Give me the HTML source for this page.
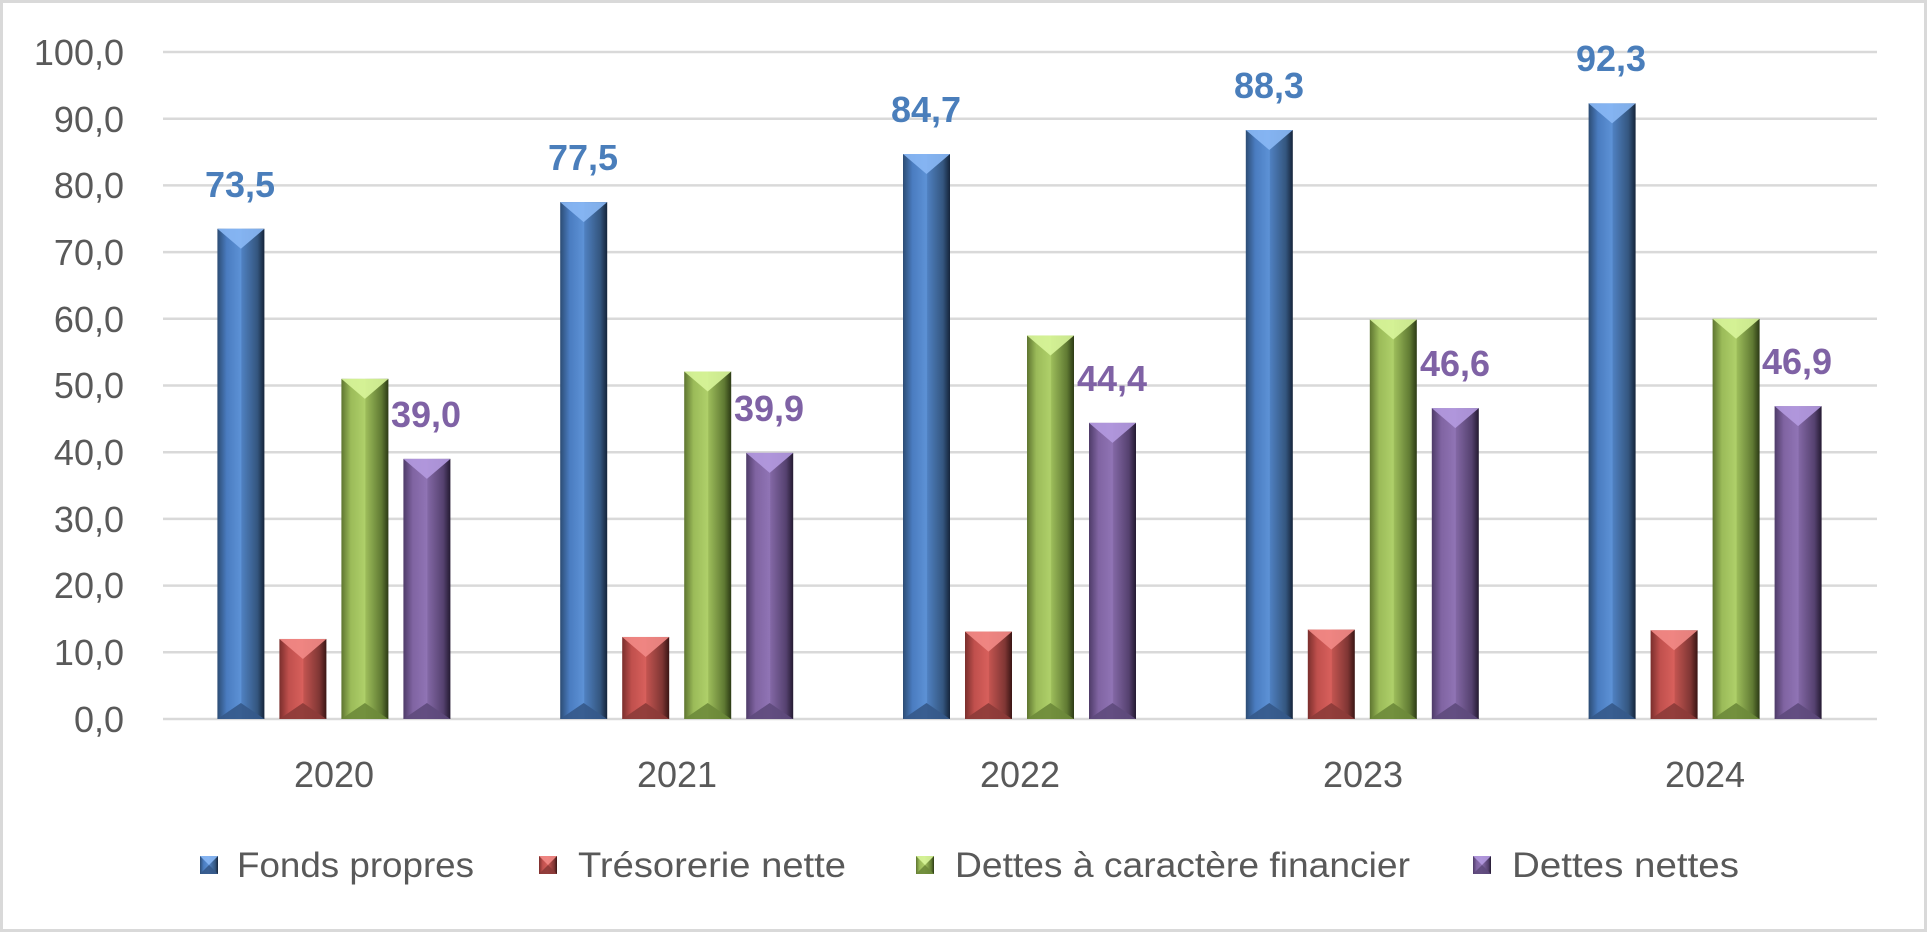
<!DOCTYPE html>
<html><head><meta charset="utf-8"><style>
html,body{margin:0;padding:0;background:#fff;}
svg{display:block;font-family:"Liberation Sans",sans-serif;}
</style></head><body>
<svg id="c" width="1927" height="932" viewBox="0 0 1927 932" xmlns="http://www.w3.org/2000/svg">
<defs>
<linearGradient id="gb" x1="0" x2="1"><stop offset="0" stop-color="#2c4c74"/><stop offset="0.2" stop-color="#4a7cc0"/><stop offset="0.5" stop-color="#5d92d6"/><stop offset="0.52" stop-color="#4f80c0"/><stop offset="0.85" stop-color="#34567f"/><stop offset="1" stop-color="#15243a"/></linearGradient>
<linearGradient id="gr" x1="0" x2="1"><stop offset="0" stop-color="#7a2e2c"/><stop offset="0.2" stop-color="#c0504d"/><stop offset="0.5" stop-color="#d8605c"/><stop offset="0.52" stop-color="#c25450"/><stop offset="0.85" stop-color="#7f3634"/><stop offset="1" stop-color="#3a1514"/></linearGradient>
<linearGradient id="gg" x1="0" x2="1"><stop offset="0" stop-color="#5e7530"/><stop offset="0.2" stop-color="#9bbb59"/><stop offset="0.5" stop-color="#afd06a"/><stop offset="0.52" stop-color="#9cbc5a"/><stop offset="0.85" stop-color="#607a33"/><stop offset="1" stop-color="#2c3a15"/></linearGradient>
<linearGradient id="gp" x1="0" x2="1"><stop offset="0" stop-color="#4e3b68"/><stop offset="0.2" stop-color="#8064a2"/><stop offset="0.5" stop-color="#9074b5"/><stop offset="0.52" stop-color="#8267a4"/><stop offset="0.85" stop-color="#55416f"/><stop offset="1" stop-color="#241a31"/></linearGradient>
</defs>
<rect x="1.5" y="1.5" width="1924" height="929" fill="#fff" stroke="#d9d9d9" stroke-width="3"/>
<g stroke="#d9d9d9" stroke-width="2.5">
<line x1="163" x2="1877" y1="52" y2="52"/><line x1="163" x2="1877" y1="118.7" y2="118.7"/><line x1="163" x2="1877" y1="185.4" y2="185.4"/><line x1="163" x2="1877" y1="252.1" y2="252.1"/><line x1="163" x2="1877" y1="318.8" y2="318.8"/><line x1="163" x2="1877" y1="385.5" y2="385.5"/><line x1="163" x2="1877" y1="452.2" y2="452.2"/><line x1="163" x2="1877" y1="518.9" y2="518.9"/><line x1="163" x2="1877" y1="585.6" y2="585.6"/><line x1="163" x2="1877" y1="652.3" y2="652.3"/><line x1="163" x2="1877" y1="719" y2="719"/>
</g>
<g id="bars"></g>
<g font-size="36" fill="#595959" text-anchor="end">
<text x="124" y="65">100,0</text><text x="124" y="132">90,0</text><text x="124" y="198">80,0</text><text x="124" y="265">70,0</text><text x="124" y="332">60,0</text><text x="124" y="398">50,0</text><text x="124" y="465">40,0</text><text x="124" y="532">30,0</text><text x="124" y="598">20,0</text><text x="124" y="665">10,0</text><text x="124" y="732">0,0</text>
</g>
<g font-size="36" fill="#595959" text-anchor="middle">
<text x="334" y="787">2020</text><text x="677" y="787">2021</text><text x="1020" y="787">2022</text><text x="1363" y="787">2023</text><text x="1705" y="787">2024</text>
</g>
<g font-size="36" font-weight="bold" text-anchor="middle" fill="#4a7ebb">
<text x="240" y="197">73,5</text><text x="583" y="170">77,5</text><text x="926" y="122">84,7</text><text x="1269" y="98">88,3</text><text x="1611" y="71">92,3</text>
</g>
<g font-size="36" font-weight="bold" text-anchor="middle" fill="#7f62a5">
<text x="426" y="427">39,0</text><text x="769" y="421">39,9</text><text x="1112" y="391">44,4</text><text x="1455" y="376">46,6</text><text x="1797" y="374">46,9</text>
</g>
<g font-size="35" fill="#595959">
<text x="237" y="877" textLength="237" lengthAdjust="spacingAndGlyphs">Fonds propres</text><text x="578" y="877" textLength="268" lengthAdjust="spacingAndGlyphs">Trésorerie nette</text><text x="955" y="877" textLength="455" lengthAdjust="spacingAndGlyphs">Dettes à caractère financier</text><text x="1512" y="877" textLength="227" lengthAdjust="spacingAndGlyphs">Dettes nettes</text>
</g>
<g id="leg"></g>
</svg>
<script>
var ns="http://www.w3.org/2000/svg";
var data=[[73.5,12.0,51.0,39.0],[77.5,12.3,52.1,39.9],[84.7,13.1,57.5,44.4],[88.3,13.4,59.9,46.6],[92.3,13.3,60.0,46.9]];
var grads=["gb","gr","gg","gp"];
var tops=["#8ab8f5","#f28a86","#d8f59a","#b49ae0"];
var bots=["#35598a","#8c3b39","#6d8a3a","#5e4a7c"];
var g=document.getElementById("bars");
function el(n,a,p){var e=document.createElementNS(ns,n);for(var k in a)e.setAttribute(k,a[k]);p.appendChild(e);return e;}
function bar(x,y,w,h,i,p){
 el("rect",{x:x,y:y,width:w,height:h,fill:"url(#"+grads[i]+")"},p);
 var d=Math.min(20,h/2);
 el("polygon",{points:x+","+y+" "+(x+w)+","+y+" "+(x+w/2)+","+(y+d),fill:tops[i],opacity:0.9},p);
 var b=y+h;
 el("polygon",{points:x+","+b+" "+(x+w/2)+","+(b-Math.min(16,h/2))+" "+(x+w)+","+b,fill:bots[i],opacity:0.9},p);
}
for(var c=0;c<5;c++){
 var cx=163+342.8*c+171.4;
 for(var i=0;i<4;i++){
  var x=cx-117+i*62, v=data[c][i], y=719-v*6.67;
  bar(x,y,47,719-y,i,g);
 }
}
var lg=document.getElementById("leg");
[200,539,916,1473].forEach(function(x,i){bar(x,856,18,18,i,lg);});
</script>
</body></html>
